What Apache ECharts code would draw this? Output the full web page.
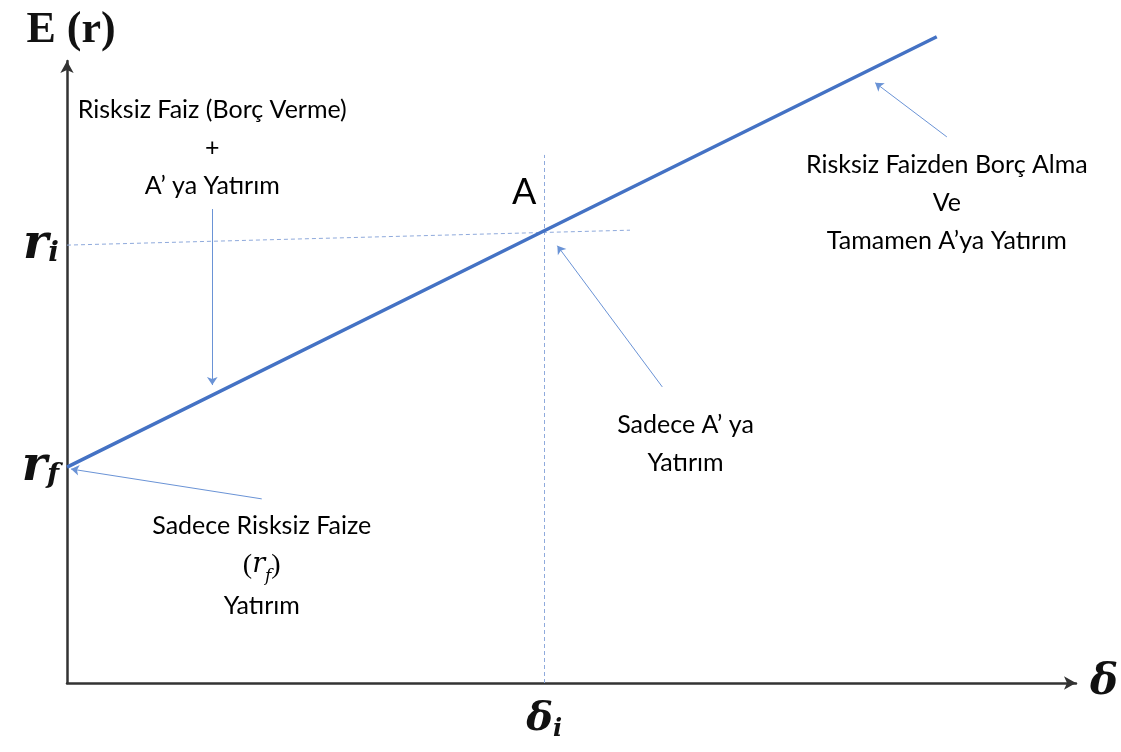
<!DOCTYPE html>
<html><head><meta charset="utf-8">
<script src="https://cdn.jsdelivr.net/npm/echarts@6/dist/echarts.min.js"></script>
<style>html,body{margin:0;padding:0;background:#fff}#c{width:1121px;height:752px}</style>
</head><body><div id="c"></div>
<script>
// ---- data (axis units 0..10) ----
const riskFree = 3.47;                 // r_f
const pointA = [4.73, 7.27];           // (δ_i, r_i)
const lineEnd = [8.62, 10.39];
const riGuide = [[0, 7.04], [5.58, 7.28]];
const deltaGuideTop = 8.49;
const arrowFrom = [[1.44, 7.62], [1.93, 2.96], [5.90, 4.76], [8.72, 8.78]];
const arrowTo   = [[1.44, 4.79], [0.04, 3.44], [4.86, 7.03], [8.01, 9.65]];
const noteTexts = [
  'Risksiz Faiz (Borç Verme)\n+\nA’ ya Yatırım',
  'Risksiz Faizden Borç Alma\nVe\nTamamen A’ya Yatırım',
  'Sadece A’ ya\nYatırım',
  '{a|Sadece Risksiz Faize}\n{p|(}{mi|r}{ms|f}{p|)}\n{a|Yatırım}',
  'A'
];
const notePos = [[1.44, 8.60], [8.72, 7.72], [6.13, 3.85], [1.93, 1.89], [4.53, 7.89]];
const yTickLabels = {rf: '{m|r}{s|f}', ri: '{m|r}{s|i}'};
const xTickLabel = '{m|δ}{s|i}';

const sansFont = 'Lato,"Open Sans",sans-serif';
const mathFont = '"DejaVu Serif","Liberation Serif",serif';
const textColor = '#000';

const chart = echarts.init(document.getElementById('c'));
chart.setOption({
  animation: false,
  backgroundColor: '#fff',
  grid: {left: 67, right: 45, top: 61, bottom: 69, containLabel: false},
  xAxis: {
    type: 'value', min: 0, max: 10,
    splitLine: {show: false}, axisTick: {show: false},
    axisLine: {show: true, symbol: ['none', 'arrow'], symbolSize: [10, 12],
      lineStyle: {color: '#333', width: 2.5}},
    name: 'δ', nameLocation: 'end', nameGap: 14,
    nameTextStyle: {fontFamily: mathFont, fontStyle: 'italic', fontWeight: 'bold', fontSize: 42, color: '#111', verticalAlign: 'middle'},
    axisLabel: {show: true, customValues: [pointA[0]], margin: 15,
      formatter: () => xTickLabel,
      rich: {
        m: {fontFamily: mathFont, fontStyle: 'italic', fontWeight: 'bold', fontSize: 40, color: '#111', lineHeight: 44},
        s: {fontFamily: mathFont, fontStyle: 'italic', fontWeight: 'bold', fontSize: 24, color: '#111', verticalAlign: 'bottom', lineHeight: 24}
      }}
  },
  yAxis: {
    type: 'value', min: 0, max: 10,
    splitLine: {show: false}, axisTick: {show: false},
    axisLine: {show: true, symbol: ['none', 'arrow'], symbolSize: [10, 12],
      lineStyle: {color: '#333', width: 2.5}},
    name: 'E (r)', nameLocation: 'end', nameGap: 8,
    nameTextStyle: {fontFamily: '"Liberation Serif",serif', fontWeight: 'bold', fontSize: 44, color: '#111', padding: [0, 0, 0, 8]},
    axisLabel: {show: true, customValues: [riskFree, riGuide[0][1]], margin: 8,
      formatter: v => (Math.abs(v - riskFree) < 1e-6 ? yTickLabels.rf : yTickLabels.ri),
      rich: {
        m: {fontFamily: mathFont, fontStyle: 'italic', fontWeight: 'bold', fontSize: 48, color: '#111', lineHeight: 46},
        s: {fontFamily: mathFont, fontStyle: 'italic', fontWeight: 'bold', fontSize: 28, color: '#111', verticalAlign: 'bottom', lineHeight: 24}
      }}
  },
  series: [
    {
      type: 'line', data: [[0, riskFree], pointA, lineEnd],
      symbol: 'none', clip: false,
      lineStyle: {color: '#4472C4', width: 3.5}, z: 5
    },
    {
      type: 'line', data: [], silent: true,
      markLine: {
        silent: true, symbol: ['none', 'none'], label: {show: false},
        lineStyle: {color: '#8FAADC', width: 1, type: [4, 3]},
        data: [
          [{coord: riGuide[0]}, {coord: riGuide[1]}],
          [{coord: [pointA[0], 0]}, {coord: [pointA[0], deltaGuideTop]}]
        ]
      }
    },
    {
      type: 'line', data: [], silent: true,
      markLine: {
        silent: true, symbol: ['none', 'arrow'], symbolSize: 8, label: {show: false},
        lineStyle: {color: '#6A93D6', width: 1, type: 'solid'},
        data: arrowFrom.map((f, i) => [{coord: f}, {coord: arrowTo[i]}])
      }
    },
    {
      type: 'scatter', symbolSize: 1, itemStyle: {color: 'rgba(0,0,0,0)'}, silent: true,
      data: noteTexts.map((t, i) => ({value: notePos[i], text: t, label: i === 4 ? {fontSize: 36} : {}})),
      label: {
        show: true, position: 'inside',
        formatter: p => p.data.text,
        fontFamily: sansFont, fontSize: 25, color: textColor, opacity: 1, lineHeight: 38, align: 'center',
        rich: {
          a: {fontFamily: sansFont, fontSize: 25, color: textColor, lineHeight: 40},
          p: {fontFamily: '"Liberation Serif",serif', fontSize: 28, color: textColor, lineHeight: 40},
          mi: {fontFamily: mathFont, fontStyle: 'italic', fontSize: 27, color: textColor, lineHeight: 40},
          ms: {fontFamily: mathFont, fontStyle: 'italic', fontSize: 17, color: textColor, verticalAlign: 'bottom', lineHeight: 30}
        }
      }
    }
  ]
});
</script></body></html>
